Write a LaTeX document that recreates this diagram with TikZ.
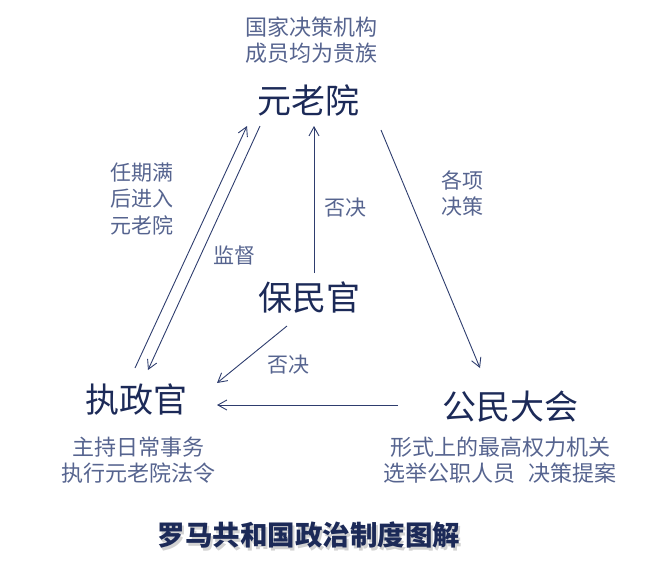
\documentclass[tikz,border=0pt]{standalone}
\usepackage{fontspec}
\newfontfamily\cjk{Noto Sans CJK SC}
\usetikzlibrary{arrows.meta}
\definecolor{maintext}{HTML}{1C2A58}
\definecolor{notetext}{HTML}{56648F}
\definecolor{arrowc}{HTML}{2E3D6E}
\tikzset{
  mainnode/.style={inner sep=0pt, text=maintext, font=\cjk\fontsize{34}{38}\selectfont},
  notenode/.style={inner sep=0pt, text=notetext, align=center, font=\cjk\fontsize{22}{26.5}\selectfont},
  labelnode/.style={inner sep=0pt, text=notetext, align=center, font=\cjk\fontsize{21}{26.5}\selectfont},
  flow/.style={draw=arrowc, line width=0.9pt, -{Straight Barb[length=9pt,width=10pt,line width=0.9pt]}}
}
\begin{document}
\begin{tikzpicture}[x=1pt,y=-1pt]
\useasboundingbox (0,0) rectangle (672,565);
% main nodes
\node[mainnode] (senate) at (308,100) {元老院};
\node[mainnode] (tribune) at (309,298) {保民官};
\node[mainnode] (consul) at (136,400) {执政官};
\node[mainnode] (assembly) at (510,407) {公民大会};
% notes
\node[notenode] (senatenote) at (311,40) {国家决策机构\\成员均为贵族};
\node[notenode] (consulnote) at (138,460) {主持日常事务\\执行元老院法令};
\node[notenode] (assemblynote) at (500,460) {形式上的最高权力机关\\选举公职人员\hspace{0.6em}决策提案};
% edge labels
\node[labelnode] (lterm) at (142,199) {任期满\\后进入\\元老院};
\node[labelnode] (lsup) at (234,255) {监督};
\node[labelnode] (lveto1) at (345,208) {否决};
\node[labelnode] (lveto2) at (288,365) {否决};
\node[labelnode] (ldec) at (462,193.5) {各项\\决策};
% title
\node[inner sep=0pt, text=gray!35, font=\cjk\bfseries\fontsize{27.5}{31}\selectfont] (titleshadow) at (311,537.5) {罗马共和国政治制度图解};
\node[inner sep=0pt, text=maintext, font=\cjk\bfseries\fontsize{27.5}{31}\selectfont] (title) at (309,535) {罗马共和国政治制度图解};
% arrow end points
\coordinate (cUp0) at (135,368);
\coordinate (sUp1) at (247,126);
\coordinate (sDn0) at (260,126);
\coordinate (cDn1) at (148,370);
\coordinate (tV0) at (314,273);
\coordinate (sV1) at (314,126);
\coordinate (sR0) at (381,130);
\coordinate (aR1) at (480,368);
\coordinate (tC0) at (287,326);
\coordinate (cT1) at (217,383);
\coordinate (aH0) at (398,405);
\coordinate (cH1) at (217,405);
% connectors
\draw[flow] (cUp0) -- (sUp1);
\draw[flow] (sDn0) -- (cDn1);
\draw[flow] (tV0) -- (sV1);
\draw[flow] (sR0) -- (aR1);
\draw[flow] (tC0) -- (cT1);
\draw[flow] (aH0) -- (cH1);
\end{tikzpicture}
\end{document}
